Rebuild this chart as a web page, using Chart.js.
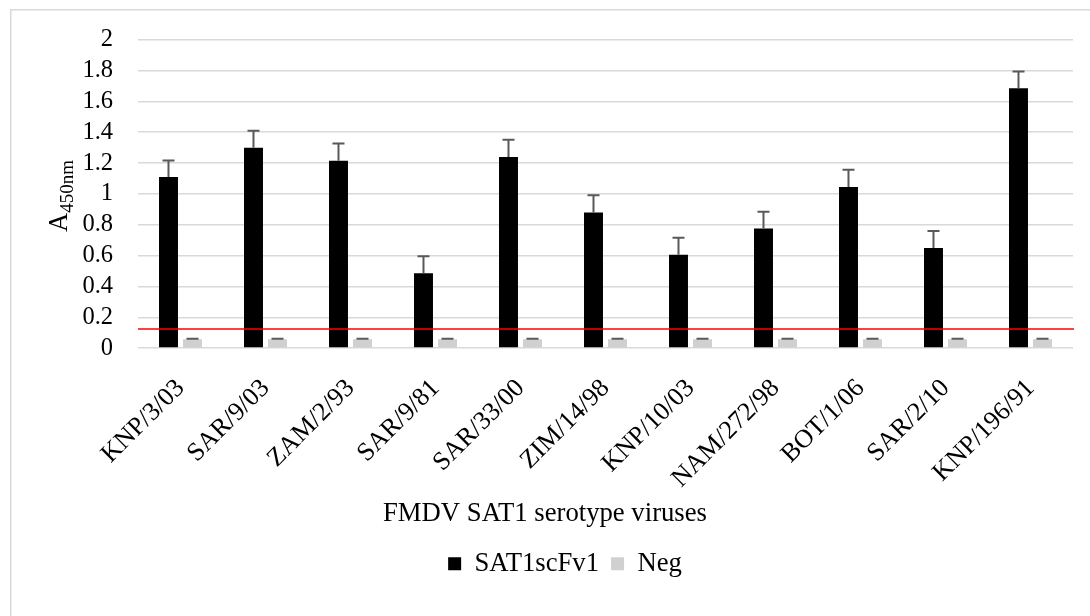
<!DOCTYPE html>
<html>
<head>
<meta charset="utf-8">
<script src="https://cdn.jsdelivr.net/npm/chart.js@4.4.0/dist/chart.umd.min.js"></script>
<style>
html, body { margin: 0; padding: 0; background: #ffffff; }
#wrap { width: 1090px; height: 616px; position: relative; }
</style>
</head>
<body>
<div id="wrap"><canvas id="c"></canvas></div>
<script>
const categories = ['KNP/3/03', 'SAR/9/03', 'ZAM/2/93', 'SAR/9/81', 'SAR/33/00', 'ZIM/14/98', 'KNP/10/03', 'NAM/272/98', 'BOT/1/06', 'SAR/2/10', 'KNP/196/91'];
const sat1Values = [1.11, 1.30, 1.215, 0.485, 1.24, 0.88, 0.605, 0.775, 1.045, 0.65, 1.685];
const sat1Errors = [0.107, 0.11, 0.112, 0.11, 0.111, 0.111, 0.11, 0.11, 0.111, 0.109, 0.108];
const negValues = [0.058, 0.058, 0.058, 0.058, 0.058, 0.058, 0.058, 0.058, 0.058, 0.058, 0.058];
const negErrors = [0.002, 0.002, 0.002, 0.002, 0.002, 0.002, 0.002, 0.002, 0.002, 0.002, 0.002];
const cutoffValue = 0.123;
const yTickLabels = ['0', '0.2', '0.4', '0.6', '0.8', '1', '1.2', '1.4', '1.6', '1.8', '2'];
const seriesNames = ['SAT1scFv1', 'Neg'];
const xTitleText = 'FMDV SAT1 serotype viruses';
const yTitleMain = 'A';
const yTitleSub = '450nm';

const FAMILY = "'Liberation Serif', 'Times New Roman', serif";

const framePlugin = {
  id: 'frame',
  beforeDraw(chart) {
    const ctx = chart.ctx;
    ctx.save();
    ctx.strokeStyle = '#d9d9d9';
    ctx.lineWidth = 1.5;
    ctx.beginPath();
    ctx.moveTo(10.75, chart.height);
    ctx.lineTo(10.75, 9.75);
    ctx.lineTo(chart.width, 9.75);
    ctx.stroke();
    ctx.restore();
  }
};

const legendShiftPlugin = {
  id: 'legendShift',
  afterLayout(chart) {
    if (chart.legend) {
      chart.legend.left += 20;
      chart.legend.right += 20;
    }
  }
};

const errorBarPlugin = {
  id: 'errorBars',
  afterDatasetsDraw(chart) {
    const ctx = chart.ctx;
    const y = chart.scales.y;
    const ca = chart.chartArea;
    ctx.save();
    const yc = Math.round(y.getPixelForValue(cutoffValue));
    ctx.strokeStyle = '#ff0000';
    ctx.lineWidth = 1.5;
    ctx.beginPath();
    ctx.moveTo(ca.left, yc);
    ctx.lineTo(ca.right + 1, yc);
    ctx.stroke();
    chart.data.datasets.forEach((ds, i) => {
      const meta = chart.getDatasetMeta(i);
      if (meta.hidden || !ds.errors) return;
      meta.data.forEach((el, j) => {
        const top = y.getPixelForValue(ds.data[j] + ds.errors[j]);
        ctx.strokeStyle = '#595959';
        ctx.lineWidth = 2;
        ctx.beginPath();
        ctx.moveTo(el.x, el.y);
        ctx.lineTo(el.x, top);
        ctx.moveTo(el.x - 6, top);
        ctx.lineTo(el.x + 6, top);
        ctx.stroke();
      });
    });
    ctx.restore();
  }
};

const yTitlePlugin = {
  id: 'yTitle',
  afterDraw(chart) {
    const ctx = chart.ctx;
    const ca = chart.chartArea;
    const cy = (ca.top + ca.bottom) / 2 + 2;
    ctx.save();
    ctx.translate(67, cy);
    ctx.rotate(-Math.PI / 2);
    ctx.fillStyle = '#000000';
    ctx.textBaseline = 'alphabetic';
    ctx.textAlign = 'left';
    ctx.font = '26.7px ' + FAMILY;
    const wA = ctx.measureText(yTitleMain).width;
    ctx.font = '19px ' + FAMILY;
    const wS = ctx.measureText(yTitleSub).width;
    const x0 = -(wA + wS) / 2;
    ctx.font = '26.7px ' + FAMILY;
    ctx.fillText(yTitleMain, x0, 0);
    ctx.font = '19px ' + FAMILY;
    ctx.fillText(yTitleSub, x0 + wA, 6);
    ctx.restore();
  }
};

new Chart(document.getElementById('c'), {
  type: 'bar',
  data: {
    labels: categories,
    datasets: [
      {
        label: seriesNames[0],
        data: sat1Values,
        errors: sat1Errors,
        backgroundColor: '#000000',
        borderWidth: 0,
        barPercentage: 0.79,
        categoryPercentage: 0.565
      },
      {
        label: seriesNames[1],
        data: negValues,
        errors: negErrors,
        backgroundColor: '#d0d0d0',
        borderWidth: 0,
        barPercentage: 0.79,
        categoryPercentage: 0.565
      }
    ]
  },
  options: {
    responsive: true,
    maintainAspectRatio: false,
    animation: false,
    events: [],
    layout: { padding: { left: 17, right: 17, top: 28, bottom: 29 } },
    scales: {
      x: {
        grid: { display: false, drawTicks: false },
        border: { display: false },
        afterFit: (scale) => { scale.height -= 30; },
        ticks: {
          color: '#000000',
          font: { family: FAMILY, size: 26 },
          maxRotation: 45,
          minRotation: 45,
          padding: 25,
          autoSkip: false
        }
      },
      y: {
        min: 0,
        max: 2,
        afterFit: (scale) => { scale.width = 121; },
        grid: { color: '#d9d9d9', lineWidth: 1.5, drawTicks: false },
        border: { display: false },
        ticks: {
          stepSize: 0.2,
          autoSkip: false,
          color: '#000000',
          font: { family: FAMILY, size: 24.5 },
          padding: 25,
          callback: (v, i) => yTickLabels[i]
        }
      }
    },
    plugins: {
      tooltip: { enabled: false },
      title: {
        display: true,
        text: xTitleText,
        position: 'bottom',
        weight: 500,
        color: '#000000',
        font: { family: FAMILY, size: 26.7, weight: 'normal' },
        padding: { top: 9, bottom: 8 }
      },
      legend: {
        position: 'bottom',
        labels: {
          color: '#000000',
          font: { family: FAMILY, size: 26.7 },
          boxWidth: 13,
          boxHeight: 13,
          padding: 12
        }
      }
    }
  },
  plugins: [framePlugin, legendShiftPlugin, errorBarPlugin, yTitlePlugin]
});
</script>
</body>
</html>
